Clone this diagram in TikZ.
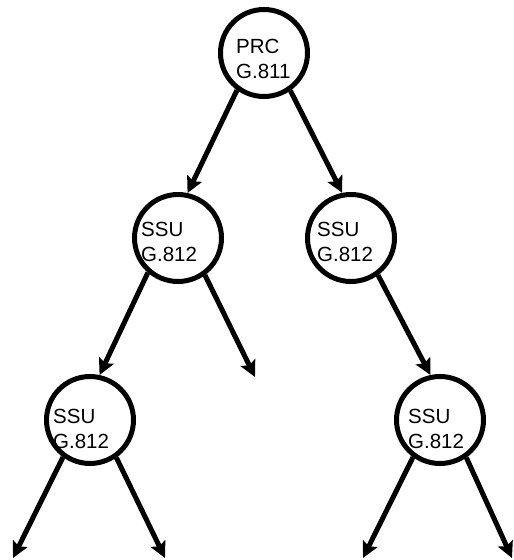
\documentclass[tikz,border=0pt]{standalone}
\usepackage{fontspec}
\setmainfont{Liberation Sans}
\usetikzlibrary{arrows.meta}
\begin{document}
\begin{tikzpicture}[x=1pt,y=1pt,
  unit/.style={circle,draw,line width=5pt,minimum size=87pt,inner sep=0pt},
  txt/.style={anchor=north west,inner sep=0pt,align=left,font=\fontsize{20.5}{25}\selectfont},
  link/.style={line width=5pt,-{Stealth[length=16pt,width=16pt,inset=3pt]}}]
\useasboundingbox (0,0) rectangle (514,560);
\node[unit] (A) at (264,507) {};
\node[unit] (B) at (178,322) {};
\node[unit] (C) at (351,322) {};
\node[unit] (D) at (90,140) {};
\node[unit] (E) at (440,140) {};
\node[txt] (tA) at (236,521) {PRC\\G.811};
\node[txt] (tB) at (141,338) {SSU\\G.812};
\node[txt] (tC) at (317,338) {SSU\\G.812};
\node[txt] (tD) at (53,151) {SSU\\G.812};
\node[txt] (tE) at (408,151) {SSU\\G.812};
\coordinate (f1) at (255,183);
\coordinate (f2) at (13,2);
\coordinate (f3) at (165,2);
\coordinate (f4) at (363,2);
\coordinate (f5) at (512,2);
\draw[link] (A.234) -- (B.78);
\draw[link] (A.305) -- (C.101);
\draw[link] (B.229) -- (D.78);
\draw[link] (B.306) -- (f1);
\draw[link] (C.306) -- (E.102);
\draw[link] (D.234) -- (f2);
\draw[link] (D.305) -- (f3);
\draw[link] (E.234) -- (f4);
\draw[link] (E.305) -- (f5);
\end{tikzpicture}
\end{document}
